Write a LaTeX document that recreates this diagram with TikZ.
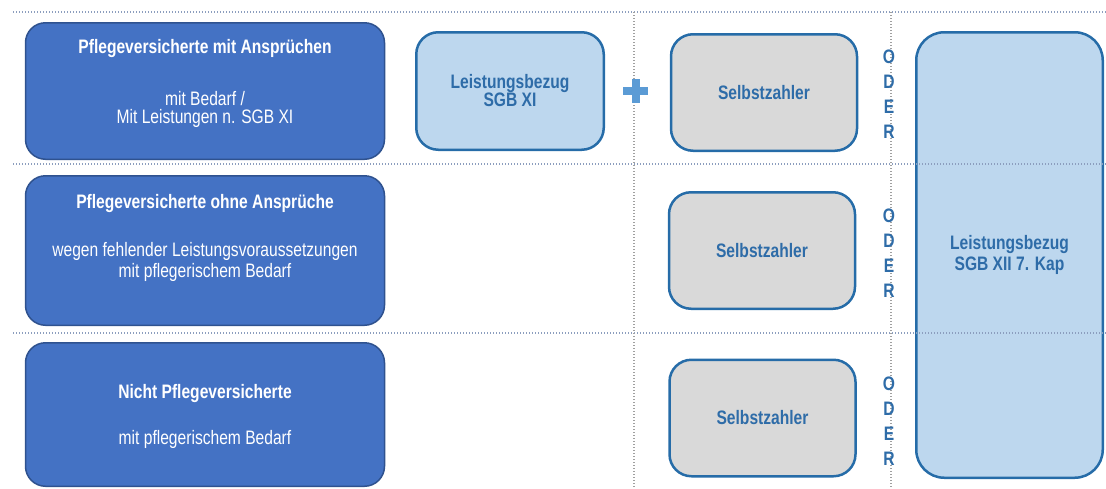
\documentclass[tikz,border=0pt]{standalone}
\usepackage{fontspec}
\setmainfont{Liberation Sans}[FakeStretch=0.8]
\definecolor{grpfill}{RGB}{68,114,196}
\definecolor{grpline}{RGB}{47,82,143}
\definecolor{sgbfill}{RGB}{189,215,238}
\definecolor{boxline}{RGB}{38,108,168}
\definecolor{boxtext}{RGB}{46,108,168}
\definecolor{selffill}{RGB}{217,217,217}
\definecolor{plusblue}{RGB}{91,155,213}
\definecolor{sepline}{RGB}{140,158,190}
\definecolor{vline}{RGB}{160,160,160}

\begin{document}
\begin{tikzpicture}[x=1pt,y=-1pt,
  group node/.style={rectangle,draw=grpline,fill=grpfill,line width=1.5pt,rounded corners=20pt,minimum width=359pt},
  title text/.style={anchor=base,text=white,font=\bfseries\fontsize{19.5}{19.5}\selectfont},
  body text/.style={anchor=base,text=white,font=\fontsize{19.5}{19.5}\selectfont},
  sgb node/.style={rectangle,draw=boxline,fill=sgbfill,line width=2.5pt,rounded corners=22pt,align=center,text=boxtext,font=\bfseries\fontsize{19.5}{19.5}\selectfont},
  self node/.style={sgb node,fill=selffill,minimum width=186pt,minimum height=116.5pt},
  oder text/.style={align=center,text=boxtext,font=\bfseries\fontsize{19.5}{25}\selectfont},
  sep line/.style={draw=sepline,line width=1.2pt,dash pattern=on 1pt off 2pt}]

  \useasboundingbox (0,0) rectangle (1106,488);

  % linke Spalte
  \node[group node,minimum height=136.5pt] (g1) at (205,91) {};
  \node[group node,minimum height=149.5pt] (g2) at (205,250.5) {};
  \node[group node,minimum height=143.5pt] (g3) at (205,414.5) {};

  \node[title text] (t1) at (205,53) {Pflegeversicherte mit Ansprüchen};
  \node[body text] (t1a) at (205,105) {mit Bedarf /};
  \node[body text] (t1b) at (205,123) {Mit Leistungen n. SGB XI};
  \node[title text] (t2) at (205,208) {Pflegeversicherte ohne Ansprüche};
  \node[body text] (t2a) at (205,256) {wegen fehlender Leistungsvoraussetzungen};
  \node[body text] (t2b) at (205,277) {mit pflegerischem Bedarf};
  \node[title text] (t3) at (205,398) {Nicht Pflegeversicherte};
  \node[body text] (t3a) at (205,444) {mit pflegerischem Bedarf};

  % Leistungen
  \node[sgb node,minimum width=187.5pt,minimum height=117.5pt] (sgbxi) at (510,91) {Leistungsbezug\\[-1.5pt]SGB XI};
  \node[self node] (self1) at (764,92.5) {Selbstzahler};
  \node[self node] (self2) at (762,250.5) {Selbstzahler};
  \node[self node] (self3) at (762.5,418) {Selbstzahler};
  \node[sgb node,minimum width=186.5pt,minimum height=445.5pt,rounded corners=28pt] (sgbxii) at (1009.5,255) {Leistungsbezug\\[1pt]SGB XII 7. Kap};

  % Trennlinien
  \draw[sep line] (13,12) -- (1106,12);
  \draw[sep line] (13,164) -- (1106,164);
  \draw[sep line] (13,333) -- (1106,333);
  \draw[sep line,draw=vline] (634,12) -- (634,488);
  \draw[sep line,draw=vline] (891,12) -- (891,488);

  \draw[plusblue,line width=8pt] (623,91) -- (648,91) (636,79) -- (636,103);

  \node[oder text] (o1) at (889,94) {O\\D\\E\\R};
  \node[oder text] (o2) at (889,253) {O\\D\\E\\R};
  \node[oder text] (o3) at (889,421) {O\\D\\E\\R};
\end{tikzpicture}
\end{document}
